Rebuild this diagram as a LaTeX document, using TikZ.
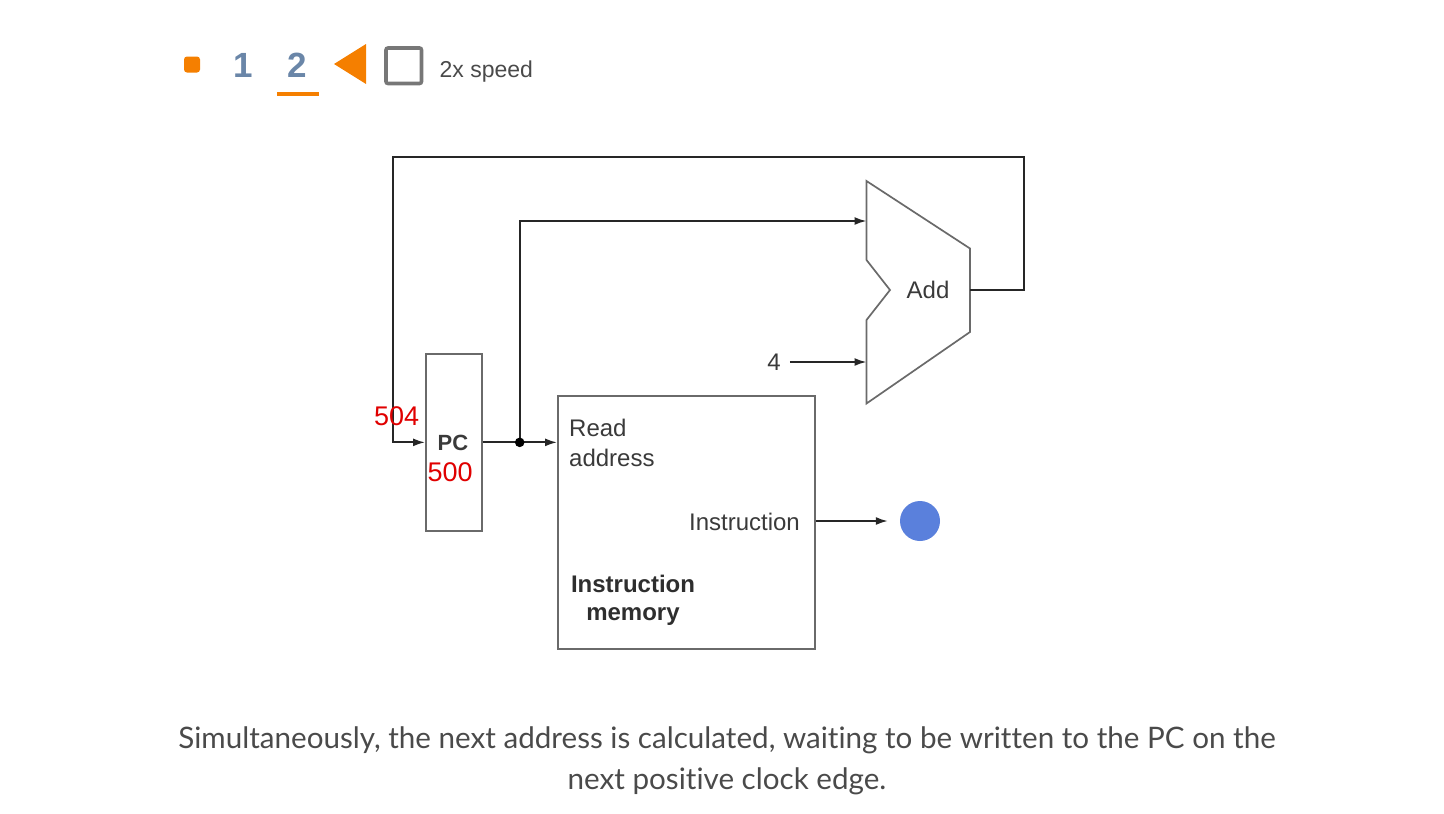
\documentclass[tikz,border=0pt]{standalone}
\usepackage{fontspec}
\setmainfont{Liberation Sans}
\newfontfamily\capfont[Ligatures=NoCommon]{Lato}
\usetikzlibrary{arrows.meta,calc}
\definecolor{orng}{HTML}{F57F00}
\definecolor{slate}{HTML}{6A86A8}
\definecolor{boxgray}{HTML}{6A6A6A}
\definecolor{txtgray}{HTML}{3A3A3A}
\definecolor{dotblue}{HTML}{5A80DC}
\definecolor{valred}{HTML}{E00000}
\definecolor{ctrlgray}{HTML}{777777}
\definecolor{captxt}{HTML}{4A4A4A}
\begin{document}
\begin{tikzpicture}[x=1pt,y=-1pt,
  wire/.style={line width=1.8pt, draw=black!85},
  arr/.style={wire,-{Latex[length=12pt,width=8pt]}},
  unitbox/.style={draw=boxgray, line width=1.7pt, fill=white, inner sep=0pt},
  lbl/.style={font=\fontsize{24}{28}\selectfont, text=txtgray, inner sep=0pt},
  blbl/.style={font=\fontsize{24}{28}\selectfont\bfseries, text=txtgray!80!black, inner sep=0pt},
  vallbl/.style={font=\fontsize{27}{30}\selectfont, text=valred, inner sep=0pt},
  steplbl/.style={font=\fontsize{35}{38}\selectfont\bfseries, text=slate, inner sep=0pt},
  caplbl/.style={font=\capfont\fontsize{29.6}{41}\selectfont, text=captxt, inner sep=0pt, align=center}
]
\useasboundingbox (0,0) rectangle (1444,814);
% --- top controls ---
\fill[orng, rounded corners=3pt] (184,56.5) rectangle (200,72.5);
\node[steplbl, anchor=base] (s1) at (243,77) {1};
\node[steplbl, anchor=base] (s2) at (297,77) {2};
\fill[orng] (277,92) rectangle (319,95.5);
\fill[orng] (334,64) -- (366,44) -- (366,84) -- cycle;
\draw[ctrlgray, line width=3.6pt, rounded corners=2pt] (386,48) rectangle (421.5,83.5);
\node[font=\fontsize{23}{26}\selectfont, text=captxt, anchor=base west, inner sep=0pt] (spd) at (439.5,77) {2x speed};
% --- PC ---
\node[unitbox, minimum width=56pt, minimum height=177pt, anchor=north west] (pc) at (425,353) {};
\node[font=\fontsize{22}{26}\selectfont\bfseries, text=txtgray, inner sep=0pt, anchor=base] (pclbl) at (453,450) {PC};
% --- instruction memory ---
\node[unitbox, minimum width=257pt, minimum height=253pt, anchor=north west] (imem) at (557,395) {};
\node[lbl, anchor=base west] (rd1) at (569,436) {Read};
\node[lbl, anchor=base west] (rd2) at (569,466) {address};
\node[lbl, anchor=base east] (instr) at (800,530) {Instruction};
\node[blbl, anchor=base] (im1) at (633,592) {Instruction};
\node[blbl, anchor=base] (im2) at (633,620) {memory};
% --- adder ---
\draw[unitbox] (866.5,181) -- (970,248.5) -- (970,332) -- (866.5,403.5) -- (866.5,320) -- (890,290) -- (866.5,260) -- cycle;
\coordinate (addin1) at (866.5,221);
\coordinate (addin2) at (866.5,362);
\coordinate (addout) at (970,290);
\node[lbl] (addlbl) at (928,290) {Add};
\node[lbl] (four) at (774,362) {4};
% --- connectors ---
\draw[arr] (addout) -- ++(54,0) |- (393,157) |- (pc.west);
\coordinate (j) at ($(pc.east)+(37,0)$);
\draw[wire] (pc.east) -- (j);
\draw[arr] (j) -- (imem.west |- j);
\draw[arr] (j) |- (addin1);
\fill[black] (j) circle (4.8pt);
\draw[arr] ([xshift=9pt]four.east) -- (addin2);
\node[circle, fill=dotblue, minimum size=40pt, inner sep=0pt] (dot) at (920,521) {};
\draw[arr] (imem.east |- dot) -- ([xshift=-12pt]dot.west);
% --- values ---
\node[vallbl, anchor=base west] (v504) at (374,425) {504};
\node[vallbl, anchor=base west] (v500) at (427.5,481) {500};
% --- caption ---
\node[caplbl, anchor=base] (cap1) at (727,748) {Simultaneously, the next address is calculated, waiting to be written to the PC on the};
\node[caplbl, anchor=base] (cap2) at (727,789) {next positive clock edge.};
\end{tikzpicture}
\end{document}
